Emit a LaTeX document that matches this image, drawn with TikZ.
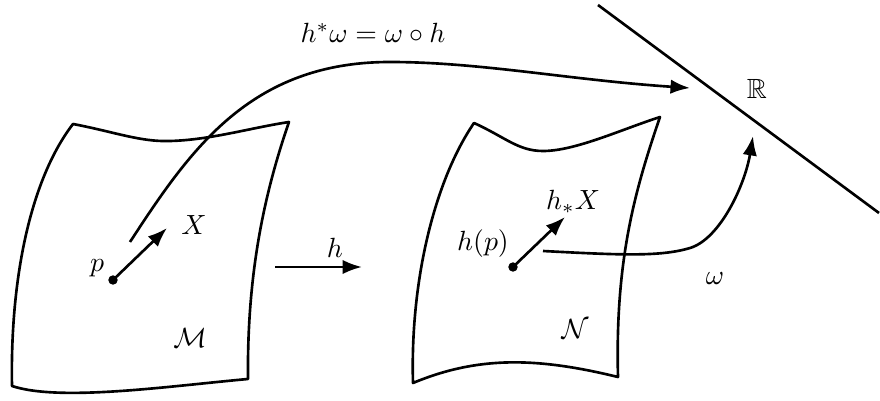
\documentclass[tikz,border=0pt]{standalone}
\usepackage{amsmath,amssymb}
\usetikzlibrary{arrows.meta}
\begin{document}
\begin{tikzpicture}[x=0.36pt,y=-0.36pt,
  edge/.style={line width=0.95pt},
  conn/.style={line width=0.95pt,-{Latex[length=7pt,width=5.2pt]}},
  lbl/.style={inner sep=0pt}]
\useasboundingbox (0,0) rectangle (880,401);
% manifold M
\draw[edge,line join=round] (73,124) .. controls (115,132) and (140,142) .. (170,141)
  .. controls (210,140) and (250,128) .. (289,122)
  .. controls (262,200) and (247,280) .. (248,379)
  .. controls (170,386) and (60,402) .. (12,386)
  .. controls (10,280) and (30,180) .. cycle;
% manifold N
\draw[edge,line join=round] (474,123) .. controls (505,137) and (518,151) .. (543,151)
  .. controls (575,151) and (620,130) .. (660,117)
  .. controls (635,190) and (615,260) .. (618,377)
  .. controls (540,358) and (480,355) .. (413,383)
  .. controls (410,280) and (435,180) .. cycle;
% real line
\coordinate (Ra) at (598,5);
\coordinate (Rb) at (879,213);
\draw[edge] (Ra) -- (Rb);
% points
\coordinate (p) at (113,280);
\coordinate (hp) at (513,267);
\coordinate (Xt) at (167,228);
\coordinate (hXt) at (565,217);
\fill (p) circle (1.7pt);
\fill (hp) circle (1.7pt);
\draw[conn] (p) -- (Xt);
\draw[conn] (hp) -- (hXt);
% h arrow
\coordinate (ha) at (275,267);
\coordinate (hb) at (362,267);
\draw[conn] (ha) -- (hb);
% pullback curve
\coordinate (c1s) at (130,242);
\coordinate (c1e) at (690,88);
\draw[conn] (c1s) .. controls (190,150) and (250,62) .. (390,62)
  .. controls (480,62) and (570,80) .. (c1e);
% omega curve
\coordinate (c2s) at (543,251);
\coordinate (c2e) at (753,136);
\draw[conn] (c2s) .. controls (620,255) and (660,257) .. (690,248)
  .. controls (720,239) and (745,185) .. (c2e);
% labels
\node[lbl] (lp) at (97,268) {$p$};
\node[lbl] (lX) at (194,225) {$X$};
\node[lbl] (lM) at (190,338) {$\mathcal{M}$};
\node[lbl] (lh) at (335,248) {$h$};
\node[lbl] (lhp) at (483,244) {$h(p)$};
\node[lbl] (lhX) at (573,202) {$h_*X$};
\node[lbl] (lN) at (575,329) {$\mathcal{N}$};
\node[lbl] (lom) at (715,279) {$\omega$};
\node[lbl] (lR) at (757,89) {$\mathbb{R}$};
\node[lbl] (lf) at (373,33) {$h^*\omega=\omega\circ h$};
\end{tikzpicture}
\end{document}
